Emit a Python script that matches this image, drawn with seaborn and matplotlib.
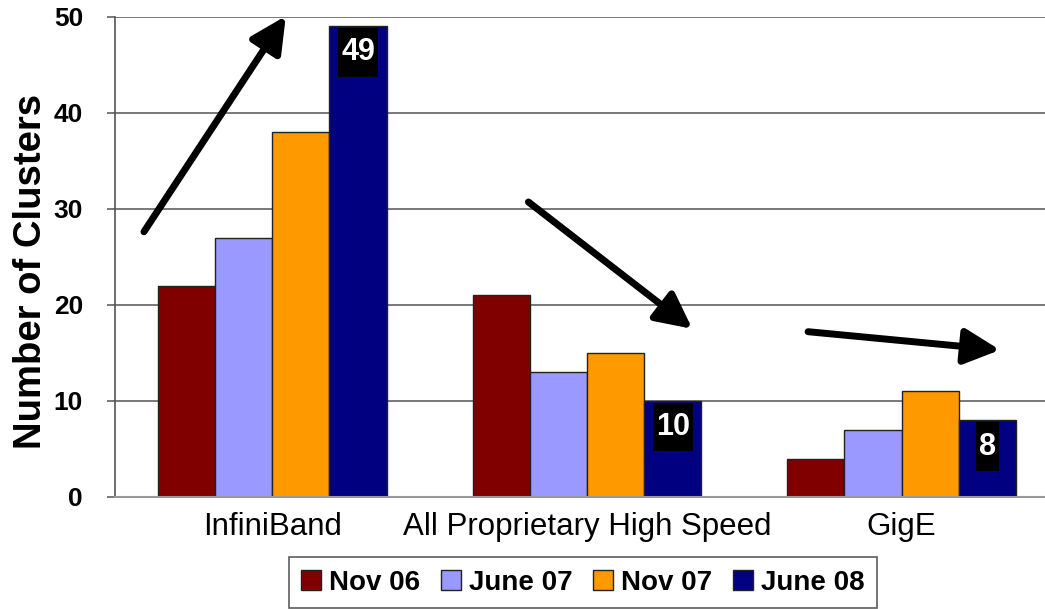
import matplotlib
matplotlib.use("Agg")
import matplotlib.pyplot as plt
import seaborn as sns
import pandas as pd
from matplotlib.patches import Patch
from matplotlib.path import Path

# Cluster interconnect counts per survey date
categories = ["InfiniBand", "All Proprietary High Speed", "GigE"]
periods = ["Nov 06", "June 07", "Nov 07", "June 08"]
nov06 = [22, 21, 4]
june07 = [27, 13, 7]
nov07 = [38, 15, 11]
june08 = [49, 10, 8]
colors = ["#800000", "#9999FF", "#FF9900", "#000080"]

rows = []
for period, vals in zip(periods, [nov06, june07, nov07, june08]):
    for cat, v in zip(categories, vals):
        rows.append({"Interconnect": cat, "Period": period, "Clusters": v})
df = pd.DataFrame(rows)

sns.set_style("white")
plt.rcParams["font.family"] = ["Liberation Sans", "DejaVu Sans"]
plt.rcParams["text.color"] = "black"
plt.rcParams["axes.labelcolor"] = "black"
plt.rcParams["xtick.color"] = "black"
plt.rcParams["ytick.color"] = "black"

fig = plt.figure(figsize=(10.45, 6.09), dpi=100)
ax = fig.add_axes([115 / 1045, 112 / 609, (1045 - 115) / 1045, (498 - 17.5) / 609])

sns.barplot(data=df, x="Interconnect", y="Clusters", hue="Period",
            order=categories, hue_order=periods, palette=colors,
            width=0.727, edgecolor="#222222", linewidth=1.0,
            saturation=1.0, ax=ax, legend=False)

ax.set_xlim(-0.5, 2.456)
ax.set_ylim(0, 50)
ax.set_yticks([0, 10, 20, 30, 40, 50])
ax.yaxis.grid(True, color="#555555", linewidth=1.1)
ax.set_axisbelow(True)
for side in ["top", "right"]:
    ax.spines[side].set_visible(False)
ax.spines["left"].set_color("#555555")
ax.spines["left"].set_linewidth(1.2)
ax.spines["bottom"].set_color("#999999")
ax.spines["bottom"].set_linewidth(1.5)

ax.tick_params(axis="y", direction="out", length=6, width=1.1, color="#555555",
               labelcolor="black", left=True, pad=17, labelsize=19)
ax.tick_params(axis="x", length=0, pad=11, labelsize=22.5, labelcolor="black")
for t in ax.get_yticklabels():
    t.set_fontweight("bold")
ax.set_xlabel("")
ax.set_ylabel("Number of Clusters", fontsize=27.5, fontweight="bold")
ax.yaxis.set_label_coords(-0.071, 0.47)


def tall_box(x0, y0, width, height, mutation_size):
    # black label plate: narrow at the sides, roomy above and below
    px = 0.1 * mutation_size
    py = 0.3 * mutation_size
    x0, x1 = x0 - px, x0 + width + px
    y0, y1 = y0 - py, y0 + height + py
    return Path([(x0, y0), (x1, y0), (x1, y1), (x0, y1), (x0, y0)], closed=True)


# Value labels on the most recent period's bars
for bar, v in zip(ax.containers[3], june08):
    ax.annotate(f"{v}", xy=(bar.get_x() + bar.get_width() / 2, v),
                xytext=(0, -19), textcoords="offset points",
                ha="center", va="center", color="white", fontsize=22,
                fontweight="bold",
                bbox=dict(boxstyle=tall_box, facecolor="black",
                          edgecolor="none"))

# Trend arrows
arrow_kw = dict(arrowstyle="-|>,head_length=0.9,head_width=0.45", lw=5,
                color="black", mutation_scale=24, shrinkA=0, shrinkB=0)
trends = [((-0.408, 27.6), (0.043, 50.05)),
          ((0.814, 30.7), (1.335, 17.5)),
          ((1.703, 17.2), (2.313, 15.3))]
for start, end in trends:
    ax.annotate("", xy=end, xytext=start, arrowprops=arrow_kw,
                annotation_clip=False)

handles = [Patch(facecolor=c, edgecolor="#222222", linewidth=1.0) for c in colors]
leg = fig.legend(handles, periods, loc="upper center", ncol=4,
                 bbox_to_anchor=(583 / 1045, 1 - 557 / 609),
                 frameon=True, fancybox=False, edgecolor="#333333",
                 handlelength=0.7, handleheight=0.7, handletextpad=0.3,
                 columnspacing=0.75, borderpad=0.45, borderaxespad=0,
                 prop=dict(size=20, weight="bold"))
leg.get_frame().set_linewidth(1.2)

fig.savefig("out.png", dpi=100)
